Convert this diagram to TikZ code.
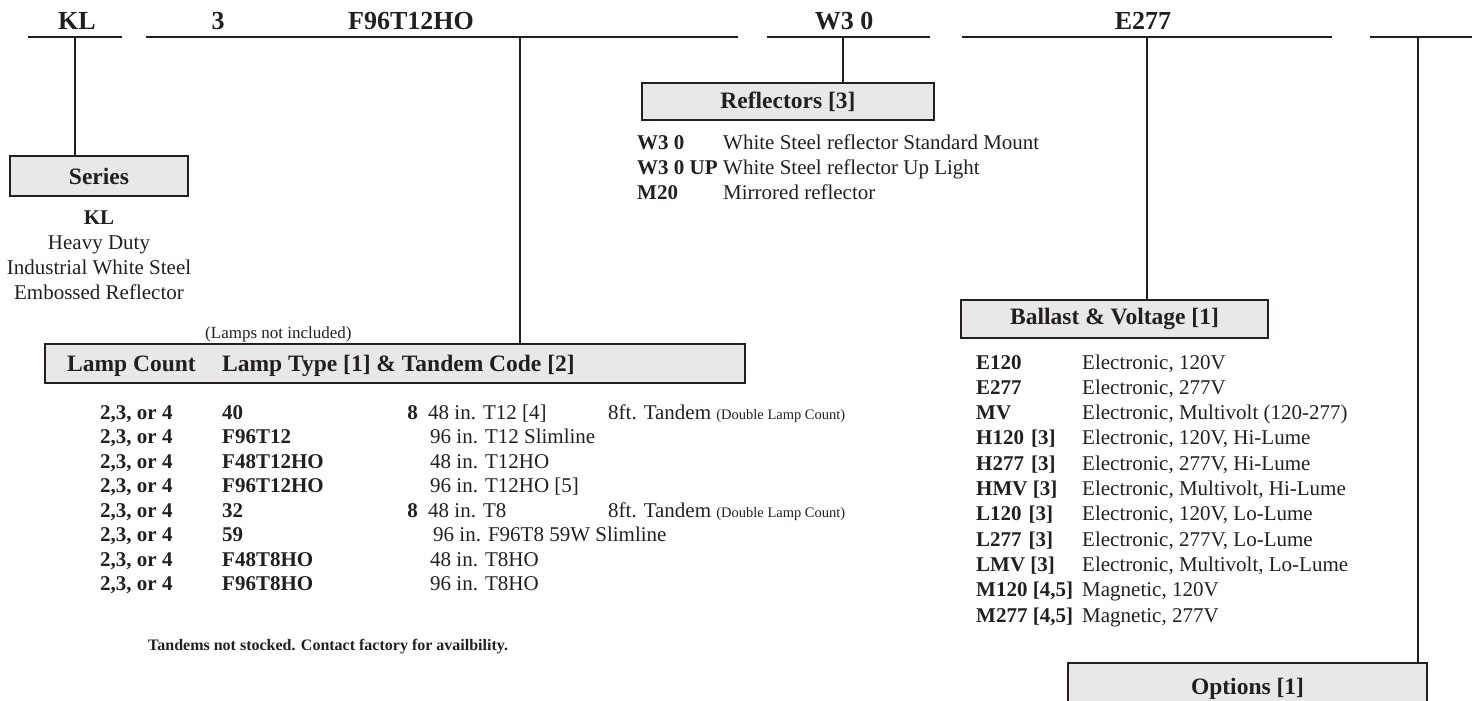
\documentclass[tikz,border=0pt]{standalone}
\usepackage{fontspec}
\setmainfont{Liberation Serif}
\usepackage{xcolor}
\usetikzlibrary{positioning}
\definecolor{ink}{RGB}{35,31,32}
\definecolor{boxfill}{RGB}{232,232,232}
\tikzset{
	bar/.style      = {fill=ink, inner sep=0pt, minimum height=2.8pt},
	partno/.style   = {anchor=base, inner sep=0pt, text=ink, font=\fontsize{26}{30}\selectfont\bfseries},
	headbox/.style  = {draw=ink, line width=2.4pt, fill=boxfill, inner sep=0pt, text=ink,
		font=\fontsize{23.5}{28}\selectfont\bfseries},
	headtext/.style = {anchor=base west, inner sep=0pt, text=ink, font=\fontsize{23.5}{28}\selectfont\bfseries},
	code/.style     = {anchor=base west, inner sep=0pt, text=ink, font=\fontsize{21}{25}\selectfont\bfseries},
	desc/.style     = {anchor=base west, inner sep=0pt, text=ink, font=\fontsize{21}{25}\selectfont},
	note/.style     = {anchor=base, inner sep=0pt, text=ink, font=\fontsize{21}{25}\selectfont},
	drop/.style     = {draw=ink, line width=2pt}
}
\newcommand{\smallnote}[1]{{\fontsize{14.5}{17}\selectfont #1}}

\begin{document}
\begin{tikzpicture}[x=1pt, y=-1pt]
\useasboundingbox (0,0) rectangle (1472,701);
\clip (0,0) rectangle (1472,701);

% part number line
\node[partno] (pn-kl)      at (77,30)   {KL};
\node[partno] (pn-count)   at (218,30)  {3};
\node[partno] (pn-lamp)    at (411,30)  {F96T12HO};
\node[partno] (pn-refl)    at (844,30)  {W3 0};
\node[partno] (pn-ballast) at (1143,30) {E277};

\node[bar, minimum width=94pt]  (bar-kl)      at (75,37)     {};
\node[bar, minimum width=592pt] (bar-lamp)    at (442,37)    {};
\node[bar, minimum width=163pt] (bar-refl)    at (848.5,37)  {};
\node[bar, minimum width=370pt] (bar-ballast) at (1147,37)   {};
\node[bar, minimum width=110pt] (bar-opt)     at (1425,37)   {};

\coordinate (lamp-drop) at (520,37);
\coordinate (refl-drop) at (843,37);
\coordinate (opt-drop)  at (1418,37);

% series
\node[headbox, minimum width=178pt, minimum height=40pt] (series) at (99,176) {Series};
\node[note, font=\fontsize{21}{25}\selectfont\bfseries] (series-kl) at (99,224) {KL};
\node[note] (series-1) at (99,249) {Heavy Duty};
\node[note] (series-2) at (99,274) {Industrial White Steel};
\node[note] (series-3) at (99,299) {Embossed Reflector};
\draw[drop] (bar-kl.center) -- (bar-kl.center |- series.north);

% reflectors
\node[headbox, minimum width=292pt, minimum height=37pt] (refl) at (788,101.5) {Reflectors [3]};
\node[code] (r1) at (637,149) {W3 0};
\node[desc] (r1d) at (723,149) {White Steel reflector Standard Mount};
\node[code] (r2) at (637,174) {W3 0 UP};
\node[desc] (r2d) at (723,174) {White Steel reflector Up Light};
\node[code] (r3) at (637,199) {M20};
\node[desc] (r3d) at (723,199) {Mirrored reflector};
\draw[drop] (refl-drop) -- (refl-drop |- refl.north);

% lamps
\node[anchor=base west, inner sep=0pt, text=ink, font=\fontsize{17}{20}\selectfont] (lamps-note) at (205,338) {(Lamps not included)};
\node[headbox, minimum width=700pt, minimum height=39pt] (lamphdr) at (395,363.5) {};
\node[headtext] (hdr-count) at (67,371) {Lamp Count};
\node[headtext] (hdr-type)  at (222,371) {Lamp Type [1] \& Tandem Code [2]};
\draw[drop] (lamp-drop) -- (lamp-drop |- lamphdr.north);

\node[code] (l1c) at (100,419)   {2,3, or 4};
\node[code] (l1t) at (222,419)  {40};
\node[code, anchor=base east] (l1e) at (418,419) {8};
\node[desc] (l1d) at (428,419)  {48 in. T12 [4]};
\node[desc] (l1x) at (608,419)  {8ft. Tandem \smallnote{(Double Lamp Count)}};
\node[code] (l2c) at (100,443.5) {2,3, or 4};
\node[code] (l2t) at (222,443.5) {F96T12};
\node[desc] (l2d) at (430,443.5) {96 in. T12 Slimline};
\node[code] (l3c) at (100,468)   {2,3, or 4};
\node[code] (l3t) at (222,468)  {F48T12HO};
\node[desc] (l3d) at (430,468)  {48 in. T12HO};
\node[code] (l4c) at (100,492.5) {2,3, or 4};
\node[code] (l4t) at (222,492.5) {F96T12HO};
\node[desc] (l4d) at (430,492.5) {96 in. T12HO [5]};
\node[code] (l5c) at (100,517)   {2,3, or 4};
\node[code] (l5t) at (222,517)  {32};
\node[code, anchor=base east] (l5e) at (418,517) {8};
\node[desc] (l5d) at (428,517)  {48 in. T8};
\node[desc] (l5x) at (608,517)  {8ft. Tandem \smallnote{(Double Lamp Count)}};
\node[code] (l6c) at (100,541.5) {2,3, or 4};
\node[code] (l6t) at (222,541.5) {59};
\node[desc] (l6d) at (433,541.5) {96 in. F96T8 59W Slimline};
\node[code] (l7c) at (100,566)   {2,3, or 4};
\node[code] (l7t) at (222,566)  {F48T8HO};
\node[desc] (l7d) at (430,566)  {48 in. T8HO};
\node[code] (l8c) at (100,590.5) {2,3, or 4};
\node[code] (l8t) at (222,590.5) {F96T8HO};
\node[desc] (l8d) at (430,590.5) {96 in. T8HO};
\node[code, font=\fontsize{16}{19}\selectfont\bfseries] (tandem-note) at (148,650)
	{Tandems not stocked. Contact factory for availbility.};

% ballast
\node[headbox, minimum width=307pt, minimum height=38pt] (ballast) at (1114.5,319) {Ballast \& Voltage [1]};
\draw[drop] (bar-ballast.center) -- (ballast.north -| bar-ballast.center);
\node[code] (b1)  at (976,369)   {E120};
\node[desc] (b1d) at (1082,369)  {Electronic, 120V};
\node[code] (b2)  at (976,394.3) {E277};
\node[desc] (b2d) at (1082,394.3) {Electronic, 277V};
\node[code] (b3)  at (976,419.6) {MV};
\node[desc] (b3d) at (1082,419.6) {Electronic, Multivolt (120-277)};
\node[code] (b4)  at (976,444.9) {H120\hspace{7pt}[3]};
\node[desc] (b4d) at (1082,444.9) {Electronic, 120V, Hi-Lume};
\node[code] (b5)  at (976,470.2) {H277\hspace{7pt}[3]};
\node[desc] (b5d) at (1082,470.2) {Electronic, 277V, Hi-Lume};
\node[code] (b6)  at (976,495.5) {HMV [3]};
\node[desc] (b6d) at (1082,495.5) {Electronic, Multivolt, Hi-Lume};
\node[code] (b7)  at (976,520.8) {L120\hspace{7pt}[3]};
\node[desc] (b7d) at (1082,520.8) {Electronic, 120V, Lo-Lume};
\node[code] (b8)  at (976,546.1) {L277\hspace{7pt}[3]};
\node[desc] (b8d) at (1082,546.1) {Electronic, 277V, Lo-Lume};
\node[code] (b9)  at (976,571.4) {LMV [3]};
\node[desc] (b9d) at (1082,571.4) {Electronic, Multivolt, Lo-Lume};
\node[code] (b10) at (976,596.7) {M120 [4,5]};
\node[desc] (b10d) at (1082,596.7) {Magnetic, 120V};
\node[code] (b11) at (976,622)   {M277 [4,5]};
\node[desc] (b11d) at (1082,622) {Magnetic, 277V};

% options
\node[headbox, minimum width=359pt, minimum height=52pt] (options) at (1247.5,689) {Options [1]};
\draw[drop] (opt-drop) -- (opt-drop |- options.north);
\end{tikzpicture}
\end{document}
